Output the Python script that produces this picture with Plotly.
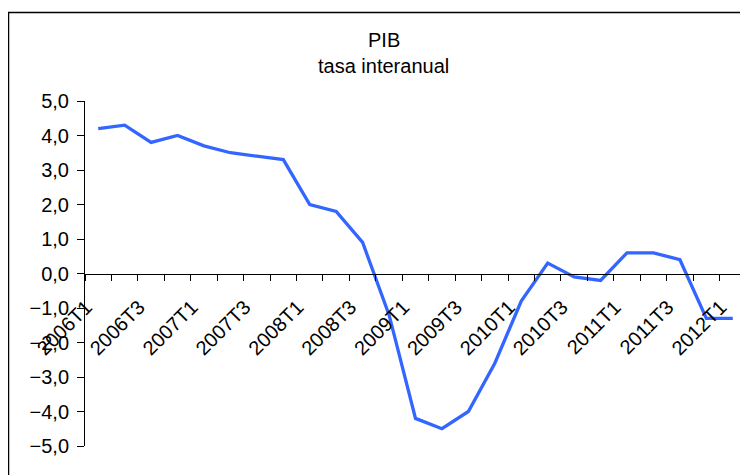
import plotly.graph_objects as go

# PIB, tasa interanual (%), trimestral
trimestres = ["2006T1", "2006T2", "2006T3", "2006T4",
              "2007T1", "2007T2", "2007T3", "2007T4",
              "2008T1", "2008T2", "2008T3", "2008T4",
              "2009T1", "2009T2", "2009T3", "2009T4",
              "2010T1", "2010T2", "2010T3", "2010T4",
              "2011T1", "2011T2", "2011T3", "2011T4",
              "2012T1"]
pib = [4.2, 4.3, 3.8, 4.0,
       3.7, 3.5, 3.4, 3.3,
       2.0, 1.8, 0.9, -1.2,
       -4.2, -4.5, -4.0, -2.6,
       -0.8, 0.3, -0.1, -0.2,
       0.6, 0.6, 0.4, -1.3,
       -1.3]
etiquetas = [t if i % 2 == 0 else "" for i, t in enumerate(trimestres)]

# la pagina deja 8px de margen en el body, se compensa aqui
OFF = 8
W, H = 748 - OFF, 475 - OFF
ml, mt = 85 - OFF, 101 - OFF
mr, mb = W - (746 - OFF), H - (446 - OFF)
pw, ph = W - ml - mr, H - mt - mb

fig = go.Figure()
fig.add_trace(go.Scatter(
    x=trimestres, y=pib, mode="lines",
    line=dict(color="#3366FF", width=3.3),
    showlegend=False,
))

fig.update_layout(
    width=W, height=H,
    margin=dict(l=ml, r=mr, t=mt, b=mb, pad=0),
    paper_bgcolor="white", plot_bgcolor="white",
    font=dict(family="Liberation Sans, Arial", size=20, color="black"),
    separators=",.",
    showlegend=False,
)

fig.update_xaxes(
    type="category",
    tickvals=trimestres, ticktext=etiquetas,
    tickson="boundaries",
    ticks="outside", ticklen=6, tickcolor="black", tickwidth=1,
    tickangle=-45, ticklabelshift=-12, ticklabelstandoff=13,
    showline=True, linecolor="black", linewidth=1,
    showgrid=False, zeroline=False,
    anchor="free", position=0.5,
    range=[-0.5, len(trimestres) - 0.5],
)
fig.update_yaxes(
    range=[-5, 5], dtick=1, tickformat=".1f",
    ticks="outside", ticklen=7, tickcolor="black", tickwidth=1,
    ticklabelstandoff=4,
    showline=True, linecolor="black", linewidth=1,
    showgrid=False, zeroline=False,
)

# titulo en dos lineas
tx = (383.5 - OFF - ml) / pw
fig.add_annotation(text="PIB", xref="paper", yref="paper",
                   x=tx, y=(H - mb - (40 - OFF)) / ph, xanchor="center", yanchor="middle",
                   showarrow=False, font=dict(size=20))
fig.add_annotation(text="tasa interanual", xref="paper", yref="paper",
                   x=tx, y=(H - mb - (66 - OFF)) / ph, xanchor="center", yanchor="middle",
                   showarrow=False, font=dict(size=20))

# marco del grafico
fig.add_shape(type="rect", xref="paper", yref="paper",
              x0=(8.5 - OFF - ml) / pw, x1=1.2,
              y0=-0.3, y1=(H - mb - (12.5 - OFF)) / ph,
              line=dict(color="black", width=1.5), layer="below")

fig.write_html("out.html")
